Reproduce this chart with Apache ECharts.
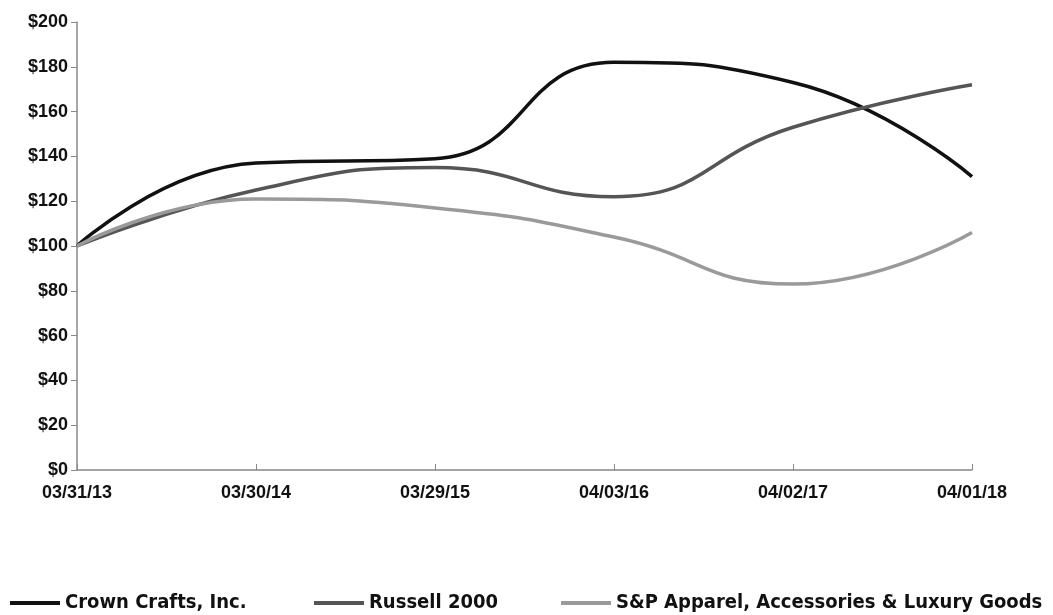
<!DOCTYPE html>
<html>
<head>
<meta charset="utf-8">
<script src="https://cdn.jsdelivr.net/npm/echarts@6/dist/echarts.min.js"></script>
<style>
  html, body { margin: 0; padding: 0; background: #fff; }
  #main { width: 1053px; height: 615px; }
</style>
</head>
<body>
<div id="main"></div>
<script>
var dates = ['03/31/13', '03/30/14', '03/29/15', '04/03/16', '04/02/17', '04/01/18'];
var crown = [100, 137, 139, 182, 173, 131];
var russell = [100, 125, 135, 122, 153, 172];
var sp = [100, 121, 117, 104, 83, 106];
var names = ['Crown Crafts, Inc.', 'Russell 2000', 'S&P Apparel, Accessories & Luxury Goods'];
var colors = ['#111111', '#555555', '#9a9a9a'];

var myChart = echarts.init(document.getElementById('main'));

var legendStyle = {
    fontFamily: '"Liberation Sans Narrow", "DejaVu Sans Condensed", "Liberation Sans", sans-serif',
    fontWeight: 'bold',
    fontSize: 20,
    color: '#111'
};

function makeLegend(i, left) {
    return {
        data: [names[i]],
        left: left,
        top: 593,
        icon: 'rect',
        itemWidth: 50,
        itemHeight: 4,
        padding: 0,
        textStyle: legendStyle
    };
}

myChart.setOption({
    animation: false,
    color: colors,
    textStyle: { fontFamily: '"Liberation Sans", Arial, sans-serif' },
    grid: { left: 77, right: 81, top: 22, bottom: 145 },
    legend: [makeLegend(0, 10), makeLegend(1, 314), makeLegend(2, 561)],
    xAxis: {
        type: 'category',
        data: dates,
        boundaryGap: false,
        axisLine: { lineStyle: { color: '#888', width: 1.5 } },
        axisTick: { inside: true, length: 6, lineStyle: { color: '#888' } },
        axisLabel: { color: '#111', fontWeight: 'bold', fontSize: 18, margin: 14 }
    },
    yAxis: {
        type: 'value',
        min: 0,
        max: 200,
        interval: 20,
        splitLine: { show: false },
        axisLine: { show: true, lineStyle: { color: '#888', width: 1.5 } },
        axisTick: { show: true, length: 6, lineStyle: { color: '#888' } },
        axisLabel: {
            color: '#111', fontWeight: 'bold', fontSize: 18, margin: 9,
            formatter: function (v) { return '$' + v; }
        }
    },
    series: [
        { name: names[0], type: 'line', data: crown, smooth: 0.5, symbol: 'none', lineStyle: { width: 3.5, color: colors[0] } },
        { name: names[1], type: 'line', data: russell, smooth: 0.5, symbol: 'none', lineStyle: { width: 3.5, color: colors[1] } },
        { name: names[2], type: 'line', data: sp, smooth: 0.5, symbol: 'none', lineStyle: { width: 3.5, color: colors[2] } }
    ]
});
</script>
</body>
</html>
